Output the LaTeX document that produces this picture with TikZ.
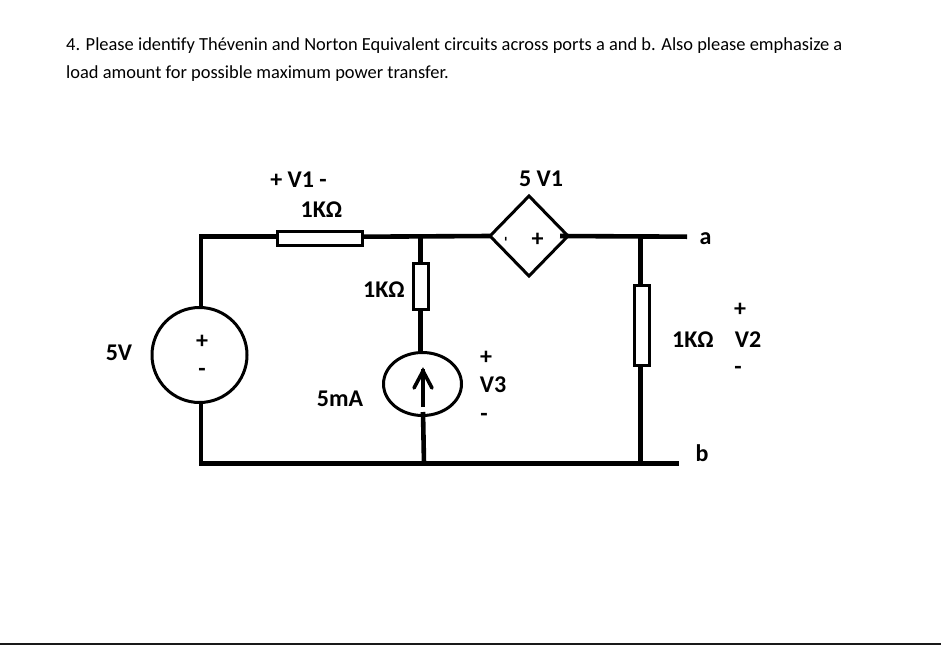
\documentclass[tikz,border=0pt]{standalone}
\usepackage{fontspec}
\setmainfont{Carlito}
\usetikzlibrary{shapes.geometric,arrows.meta}
\tikzset{
  wire/.style={line width=4.6pt,black,line cap=butt},
  thinpart/.style={draw=black,line width=3pt,fill=white,inner sep=0pt,outer sep=0pt},
  resh/.style={thinpart,rectangle,minimum width=85pt,minimum height=14pt},
  resv/.style={thinpart,rectangle,minimum width=15pt,minimum height=46pt},
  lab/.style={font=\fontsize{24}{26}\selectfont\bfseries,inner sep=0pt},
  pm/.style={font=\fontsize{24}{26}\selectfont\bfseries,inner sep=0pt},
  body/.style={font=\fontsize{18.43}{26}\selectfont,inner sep=0pt,anchor=base west}
}
\begin{document}
\begin{tikzpicture}[x=1pt,y=-1pt]
\useasboundingbox (0,0) rectangle (941,645);
\fill[white] (0,0) rectangle (941,645);
\node[body] (q1) at (66,50) {4. Please identify Thévenin and Norton Equivalent circuits across ports a and b. Also please emphasize a};
\node[body] (q2) at (66,78) {load amount for possible maximum power transfer.};
\fill[black!90] (0,642.8) rectangle (941,645);

\coordinate (tl) at (201,236.7);
\coordinate (bl) at (201,463.7);
\coordinate (jt) at (420.5,236.7);
\coordinate (jb) at (424,463.7);
\coordinate (rt) at (640.7,236.7);
\coordinate (rb) at (640.7,463.7);
\coordinate (pa) at (687,236.7);
\coordinate (pb) at (679,463.7);

\node[thinpart,circle,minimum size=95pt] (vs) at (199.5,355) {};
\node[resh] (r1) at (320,238.7) {};
\node[resv] (r2) at (421.3,286.5) {};
\node[thinpart,ellipse,minimum width=78pt,minimum height=63pt] (cs) at (422.5,384) {};
\node[thinpart,diamond,minimum width=78pt,minimum height=80pt] (dep) at (529,236) {};
\node[resv,minimum height=80pt] (r3) at (641.7,325.8) {};

\draw[wire,line join=miter] (vs.north -| tl) -- (tl) -- (r1.west |- tl);
\draw[wire] (r1.east |- tl) -- (dep.west);
\draw[wire] (jt) -- (r2.north -| jt);
\draw[wire,line width=5pt] (r2.south -| jt) -- (cs.north -| jt);
\draw[wire] (dep.east) ++(-8,0) -- (pa);
\draw[wire] (rt) -- (r3.north -| rt);
\draw[wire] (r3.south -| rt) -- (rb);
\draw[wire,line join=miter] (vs.south -| bl) -- (bl) -- (pb);
\coordinate (csb) at (423,412);
\draw[wire] (csb) -- (jb);
\coordinate (arrt) at (423,369);
\coordinate (arrb) at (423,407);
\draw[wire] (arrb) -- (arrt);
\draw[line width=3.6pt,line cap=round,line join=miter] (414,388) -- (423,371) -- (432,388);

\node[lab] (tv1) at (298.5,180) {+ V1 -};
\node[lab] (tr1) at (321.5,210) {1KΩ};
\node[lab] (tr2) at (384,289.5) {1KΩ};
\node[lab] (t5v) at (119,353) {5V};
\node[pm] (vp) at (202,342) {+};
\node[pm] (vm) at (202,372) {-};
\node[lab] (t5ma) at (340,399) {5mA};
\node[pm] (v3p) at (486,358) {+};
\node[lab] (tv3) at (493,385) {V3};
\node[pm] (v3m) at (484,417) {-};
\node[lab] (tdep) at (541,179) {5 V1};
\node[pm,rotate=90,font=\fontsize{15}{16}\selectfont\bfseries] (dm) at (507.5,239) {-};
\node[pm] (dp) at (537.5,240) {+};
\node[lab] (ta) at (705.5,238.5) {a};
\node[lab] (tb) at (702,453) {b};
\node[lab] (tr3) at (693,339.5) {1KΩ};
\node[pm] (v2p) at (740,310) {+};
\node[lab] (tv2) at (748,339.5) {V2};
\node[pm] (v2m) at (738,370) {-};
\end{tikzpicture}
\end{document}
